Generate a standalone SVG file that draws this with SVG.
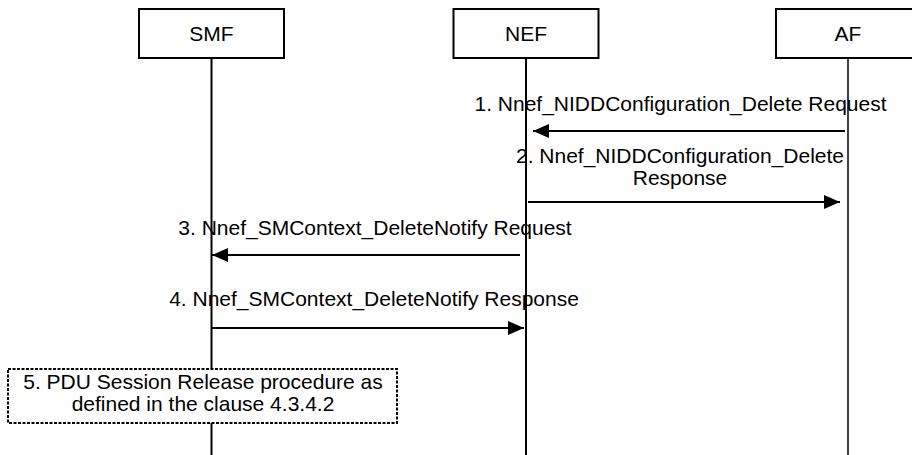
<svg xmlns="http://www.w3.org/2000/svg" width="912" height="455" viewBox="0 0 912 455">
<defs>
<style>
.box{fill:#fff;stroke:#000;stroke-width:2}
.life{stroke:#000;stroke-width:2;fill:none}
.msg{stroke:#000;stroke-width:2;fill:none;marker-end:url(#ah)}
.t{font-family:"Liberation Sans",Arial,sans-serif;font-size:21px;fill:#000;text-anchor:middle}
.note{fill:#fff;stroke:#000;stroke-width:2;stroke-dasharray:3,1.5}
</style>
<marker id="ah" viewBox="0 0 16 14" refX="16" refY="7" markerWidth="16" markerHeight="14" markerUnits="userSpaceOnUse" orient="auto">
<path d="M0,0 L16,7 L0,14 Z" fill="#000"/>
</marker>
</defs>
<rect width="912" height="455" fill="#fff"/>
<g id="lifelines">
<line class="life" x1="211.5" y1="58" x2="211.5" y2="455"/>
<line class="life" x1="526" y1="58" x2="526" y2="455"/>
<line class="life" x1="848" y1="58" x2="848" y2="455" style="stroke-width:1.5"/>
</g>
<g id="SMF">
<rect class="box" x="139" y="9" width="145" height="49"/>
<text class="t" x="211.5" y="41">SMF</text>
</g>
<g id="NEF">
<rect class="box" x="453.5" y="9" width="145" height="49"/>
<text class="t" x="526" y="41">NEF</text>
</g>
<g id="AF">
<rect class="box" x="776" y="9" width="145" height="49"/>
<text class="t" x="848" y="41">AF</text>
</g>
<g id="connectors">
<line class="msg" x1="845" y1="131" x2="533" y2="131"/>
<line class="msg" x1="528" y1="202" x2="840" y2="202"/>
<line class="msg" x1="520" y1="255" x2="212" y2="255"/>
<line class="msg" x1="212" y1="328" x2="524" y2="328"/>
</g>
<g id="labels">
<text class="t" x="680.5" y="111">1. Nnef_NIDDConfiguration_Delete Request</text>
<text class="t" x="680" y="163">2. Nnef_NIDDConfiguration_Delete</text>
<text class="t" x="680" y="185">Response</text>
<text class="t" x="375" y="235">3. Nnef_SMContext_DeleteNotify Request</text>
<text class="t" x="374" y="306">4. Nnef_SMContext_DeleteNotify Response</text>
</g>
<g id="note5">
<rect class="note" x="8" y="369" width="389" height="54"/>
<text class="t" x="203" y="389">5. PDU Session Release procedure as</text>
<text class="t" x="203" y="411">defined in the clause 4.3.4.2</text>
</g>
</svg>
